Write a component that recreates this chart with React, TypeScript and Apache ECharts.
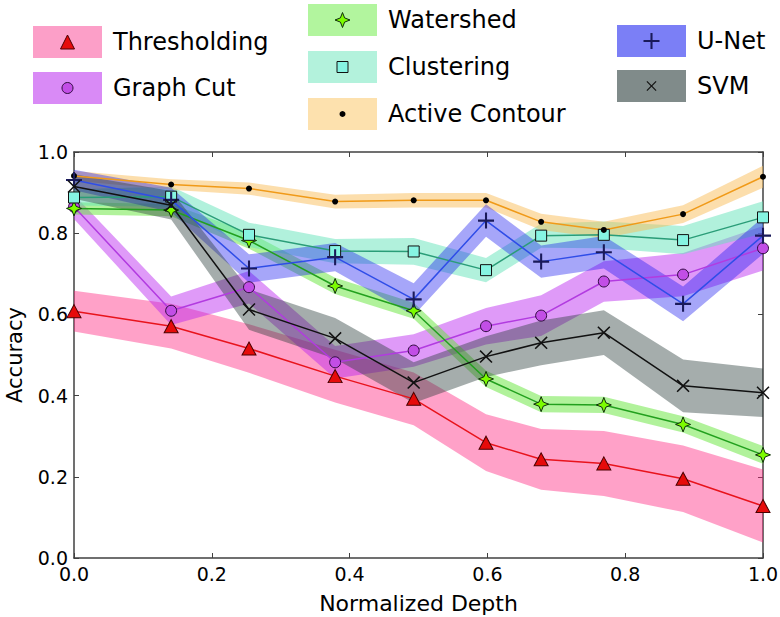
import React, { useEffect, useRef } from 'react';
import * as echarts from 'echarts';

const FONT = 'DejaVu Sans, sans-serif';

// x positions (normalized depth)
const depth = [0, 0.141, 0.254, 0.379, 0.493, 0.598, 0.678, 0.769, 0.884, 1.0];

// mean accuracy per method
const thresholding = [0.608, 0.571, 0.516, 0.448, 0.392, 0.284, 0.243, 0.233, 0.195, 0.128];
const graphCut = [0.865, 0.609, 0.667, 0.482, 0.511, 0.571, 0.597, 0.681, 0.698, 0.763];
const watershed = [0.861, 0.857, 0.782, 0.670, 0.609, 0.441, 0.379, 0.377, 0.329, 0.254];
const clustering = [0.888, 0.890, 0.796, 0.756, 0.755, 0.709, 0.794, 0.796, 0.783, 0.839];
const activeContour = [0.941, 0.920, 0.910, 0.878, 0.881, 0.881, 0.828, 0.808, 0.847, 0.939];
const uNet = [0.931, 0.882, 0.713, 0.741, 0.637, 0.831, 0.730, 0.753, 0.626, 0.794];
const svm = [0.915, 0.869, 0.612, 0.541, 0.432, 0.496, 0.530, 0.555, 0.424, 0.407];

// half-width of shaded band
const thresholdingErr = [0.05, 0.055, 0.06, 0.065, 0.065, 0.07, 0.075, 0.08, 0.082, 0.09];
const graphCutErr = [0.03, 0.035, 0.04, 0.04, 0.04, 0.045, 0.05, 0.05, 0.053, 0.055];
const watershedErr = [0.015, 0.015, 0.02, 0.02, 0.02, 0.02, 0.02, 0.02, 0.02, 0.022];
const clusteringErr = [0.02, 0.025, 0.03, 0.03, 0.033, 0.03, 0.03, 0.033, 0.035, 0.04];
const activeContourErr = [0.012, 0.013, 0.015, 0.017, 0.018, 0.018, 0.02, 0.02, 0.022, 0.027];
const uNetErr = [0.025, 0.03, 0.035, 0.035, 0.04, 0.04, 0.04, 0.04, 0.043, 0.045];
const svmErr = [0.03, 0.035, 0.05, 0.05, 0.05, 0.05, 0.055, 0.055, 0.065, 0.06];

// marker outlines (unit coords)
const triPts = [[0, -1], [1, 1], [-1, 1]];
const starPts = [[0, -1], [0.28, -0.28], [1, 0], [0.28, 0.28], [0, 1], [-0.28, 0.28], [-1, 0], [-0.28, -0.28]];
const plusT = 0.13;
const plusPts = [
  [-1, -plusT], [-plusT, -plusT], [-plusT, -1], [plusT, -1], [plusT, -plusT], [1, -plusT],
  [1, plusT], [plusT, plusT], [plusT, 1], [-plusT, 1], [-plusT, plusT], [-1, plusT],
];
const xT = 0.09;
const xPtsRaw = [
  [-1, -xT], [-xT, -xT], [-xT, -1], [xT, -1], [xT, -xT], [1, -xT],
  [1, xT], [xT, xT], [xT, 1], [-xT, 1], [-xT, xT], [-1, xT],
];
const xPts = xPtsRaw.map(([a, b]) => [(a - b) / Math.SQRT2, (a + b) / Math.SQRT2]);

const toPath = (pts: number[][]) =>
  'path://' + pts.map((p, i) => (i === 0 ? 'M' : 'L') + p[0].toFixed(3) + ',' + p[1].toFixed(3)).join('') + 'Z';

type Method = {
  name: string;
  values: number[];
  errs: number[];
  line: string;
  band: string;
  legendFill: string;
  marker: { kind: string; size: number; fill: string; border: string; borderWidth: number };
  legend: { x: number; y: number };
};

const methods: Method[] = [
  {
    name: 'Thresholding', values: thresholding, errs: thresholdingErr,
    line: '#e8131c', band: 'rgba(255,30,125,0.42)', legendFill: '#fc9fc8',
    marker: { kind: 'tri', size: 14, fill: '#e60b0b', border: '#4a0000', borderWidth: 1 },
    legend: { x: 33, y: 26 },
  },
  {
    name: 'Graph Cut', values: graphCut, errs: graphCutErr,
    line: '#b23be0', band: 'rgba(185,30,240,0.45)', legendFill: '#d98af6',
    marker: { kind: 'circle', size: 11, fill: '#c24ee6', border: '#2e0a3e', borderWidth: 1 },
    legend: { x: 33, y: 72 },
  },
  {
    name: 'Watershed', values: watershed, errs: watershedErr,
    line: '#22a01e', band: 'rgba(100,230,55,0.5)', legendFill: '#b2f59e',
    marker: { kind: 'star', size: 15, fill: '#7cfc00', border: '#0e2e0a', borderWidth: 1 },
    legend: { x: 308, y: 4 },
  },
  {
    name: 'Clustering', values: clustering, errs: clusteringErr,
    line: '#2a9d78', band: 'rgba(100,228,185,0.5)', legendFill: '#b3f2dc',
    marker: { kind: 'square', size: 11, fill: '#86f4e2', border: '#111', borderWidth: 1 },
    legend: { x: 308, y: 51 },
  },
  {
    name: 'Active Contour', values: activeContour, errs: activeContourErr,
    line: '#f09a18', band: 'rgba(250,190,90,0.5)', legendFill: '#fde1ae',
    marker: { kind: 'dot', size: 6, fill: '#000', border: '#000', borderWidth: 0 },
    legend: { x: 308, y: 98 },
  },
  {
    name: 'U-Net', values: uNet, errs: uNetErr,
    line: '#2f4de8', band: 'rgba(20,20,240,0.38)', legendFill: '#7b7ff6',
    marker: { kind: 'plus', size: 16, fill: '#1a1a5a', border: '#1a1a5a', borderWidth: 0 },
    legend: { x: 617, y: 25 },
  },
  {
    name: 'SVM', values: svm, errs: svmErr,
    line: '#111111', band: 'rgba(40,60,58,0.42)', legendFill: '#808b8a',
    marker: { kind: 'x', size: 13, fill: '#111', border: '#111', borderWidth: 0 },
    legend: { x: 617, y: 70 },
  },
];

const symbolFor = (kind: string) => {
  switch (kind) {
    case 'tri': return 'triangle';
    case 'circle': return 'circle';
    case 'dot': return 'circle';
    case 'square': return 'rect';
    case 'star': return toPath(starPts);
    case 'plus': return toPath(plusPts);
    case 'x': return toPath(xPts);
  }
  return 'circle';
};

const legendMarker = (m: Method['marker'], cx: number, cy: number) => {
  const r = m.size / 2;
  const style = { fill: m.fill, stroke: m.borderWidth ? m.border : null, lineWidth: m.borderWidth };
  const poly = (pts: number[][]) => ({
    type: 'polygon',
    shape: { points: pts.map(([a, b]) => [cx + a * r, cy + b * r]) },
    style,
    z: 20,
  });
  switch (m.kind) {
    case 'tri': return poly(triPts);
    case 'star': return poly(starPts);
    case 'plus': return poly(plusPts);
    case 'x': return poly(xPts);
    case 'square': return { type: 'rect', shape: { x: cx - r, y: cy - r, width: m.size, height: m.size }, style, z: 20 };
    default: return { type: 'circle', shape: { cx, cy, r }, style, z: 20 };
  }
};

const axisLineStyle = { color: '#404040', width: 1.5 };

export default function App() {
  const ref = useRef<HTMLDivElement>(null);

  useEffect(() => {
    if (!ref.current) return;
    const chart = echarts.init(ref.current, null, { renderer: 'svg' });

    const bandSeries = methods.map((m) => ({
      type: 'custom',
      name: m.name + ' band',
      silent: true,
      z: 1,
      data: depth.map((x, i) => [x, m.values[i]]),
      encode: { x: 0, y: 1 },
      renderItem: (params: any, api: any) => {
        if (params.dataIndex !== 0) return null;
        const pts: number[][] = [];
        for (let i = 0; i < depth.length; i++) pts.push(api.coord([depth[i], m.values[i] + m.errs[i]]));
        for (let i = depth.length - 1; i >= 0; i--) pts.push(api.coord([depth[i], m.values[i] - m.errs[i]]));
        return { type: 'polygon', shape: { points: pts }, style: { fill: m.band } };
      },
    }));

    const lineSeries = methods.map((m) => ({
      type: 'line',
      name: m.name,
      z: 3,
      data: depth.map((x, i) => [x, m.values[i]]),
      symbol: symbolFor(m.marker.kind),
      symbolSize: m.marker.kind === 'tri' ? [14, 13] : m.marker.size,
      showAllSymbol: true,
      lineStyle: { color: m.line, width: 1.5 },
      itemStyle: { color: m.marker.fill, borderColor: m.marker.border, borderWidth: m.marker.borderWidth },
      emphasis: { disabled: true },
    }));

    const graphics: any[] = [];
    methods.forEach((m) => {
      const { x, y } = m.legend;
      graphics.push({ type: 'rect', shape: { x, y, width: 69, height: 32 }, style: { fill: m.legendFill }, z: 10 });
      graphics.push(legendMarker(m.marker, x + 34.5, y + 16));
      graphics.push({
        type: 'text', x: x + 80, y: y + 16, z: 10,
        style: { text: m.name, fontSize: 24, fontFamily: FONT, fill: '#000', verticalAlign: 'middle', align: 'left' },
      });
    });

    const baseX = {
      type: 'value', min: 0, max: 1, interval: 0.2, gridIndex: 0,
      splitLine: { show: false },
      axisLine: { show: true, onZero: false, lineStyle: axisLineStyle },
      axisTick: { show: true, inside: true, length: 5, lineStyle: { color: '#404040', width: 1 } },
    };

    chart.setOption({
      animation: false,
      backgroundColor: '#fff',
      grid: { left: 74, top: 152, width: 689, height: 406, containLabel: false, outerBoundsMode: 'none' },
      xAxis: [
        {
          ...baseX, position: 'bottom',
          name: 'Normalized Depth', nameLocation: 'middle', nameGap: 34,
          nameTextStyle: { fontSize: 22, fontFamily: FONT, color: '#000' },
          axisLabel: { fontSize: 19, fontFamily: FONT, color: '#000', margin: 6, formatter: (v: number) => v.toFixed(1) },
        },
        { ...baseX, position: 'top', axisLabel: { show: false } },
      ],
      yAxis: [
        {
          ...baseX, position: 'left',
          name: 'Accuracy', nameLocation: 'middle', nameGap: 49, nameRotate: 90,
          nameTextStyle: { fontSize: 21, fontFamily: FONT, color: '#000' },
          axisLabel: { fontSize: 19, fontFamily: FONT, color: '#000', margin: 6, formatter: (v: number) => v.toFixed(1) },
        },
        { ...baseX, position: 'right', axisLabel: { show: false } },
      ],
      series: [...bandSeries, ...lineSeries],
      graphic: graphics,
    });

    return () => chart.dispose();
  }, []);

  return <div ref={ref} style={{ position: 'absolute', left: 0, top: 0, width: 780, height: 617 }} />;
}
